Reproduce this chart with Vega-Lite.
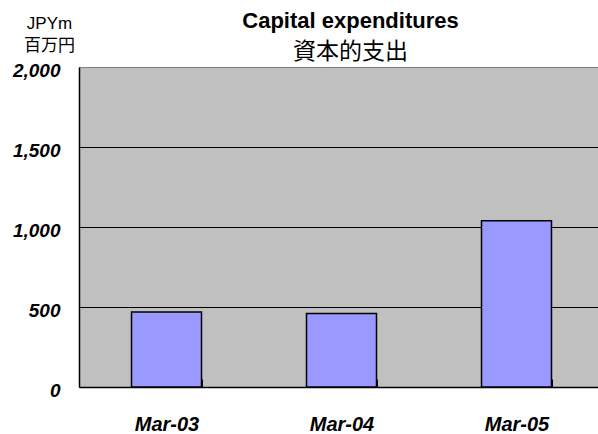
{
  "$schema": "https://vega.github.io/schema/vega-lite/v6.json",
  "width": 525,
  "height": 320,
  "autosize": {"type": "none"},
  "padding": {"left": 79, "top": 67, "right": 0, "bottom": 47},
  "background": "white",
  "title": {
    "text": "Capital expenditures",
    "subtitle": "資本的支出",
    "font": "Liberation Sans",
    "fontSize": 22,
    "fontWeight": "bold",
    "color": "black",
    "subtitleFont": "Noto Sans CJK JP",
    "subtitleFontSize": 23,
    "subtitleColor": "black",
    "subtitlePadding": 8,
    "anchor": "middle",
    "frame": "group",
    "dx": 9,
    "offset": -51
  },
  "data": {
    "values": [
      {"period": "Mar-03", "capex": 469},
      {"period": "Mar-04", "capex": 460},
      {"period": "Mar-05", "capex": 1039}
    ]
  },
  "mark": {"type": "bar", "color": "#9999FF", "stroke": "black", "strokeWidth": 1.5},
  "encoding": {
    "x": {
      "field": "period",
      "type": "ordinal",
      "scale": {"paddingInner": 0.6, "paddingOuter": 0.3},
      "axis": {
        "title": null,
        "labelAngle": 0,
        "labelFont": "Liberation Sans",
        "labelFontSize": 20,
        "labelFontStyle": "italic",
        "labelFontWeight": "bold",
        "labelColor": "black",
        "labelBaseline": "middle",
        "labelPadding": 45,
        "tickBand": "extent",
        "tickSize": -8,
        "tickColor": "black",
        "domainColor": "black",
        "domainWidth": 1.5
      }
    },
    "y": {
      "field": "capex",
      "type": "quantitative",
      "scale": {"domain": [0, 2000], "nice": false},
      "axis": {
        "values": [0, 500, 1000, 1500, 2000],
        "format": ",d",
        "title": ["JPYm", "百万円"],
        "titleAngle": 0,
        "titleAlign": "center",
        "titleBaseline": "middle",
        "titleX": -30,
        "titleY": -44,
        "titleLineHeight": 22,
        "titleFont": "Liberation Sans, Noto Sans CJK JP",
        "titleFontSize": 17,
        "titleFontWeight": "normal",
        "titleColor": "black",
        "labelFont": "Liberation Sans",
        "labelFontSize": 19,
        "labelFontStyle": "italic",
        "labelFontWeight": "bold",
        "labelColor": "black",
        "labelBaseline": "middle",
        "labelOffset": 3,
        "labelPadding": 19,
        "ticks": false,
        "domainColor": "black",
        "domainWidth": 1.5,
        "grid": true,
        "gridColor": {"condition": {"test": "datum.value == 2000", "value": "#808080"}, "value": "black"},
        "gridWidth": 1
      }
    }
  },
  "config": {
    "view": {"fill": "#C0C0C0", "stroke": null}
  }
}
